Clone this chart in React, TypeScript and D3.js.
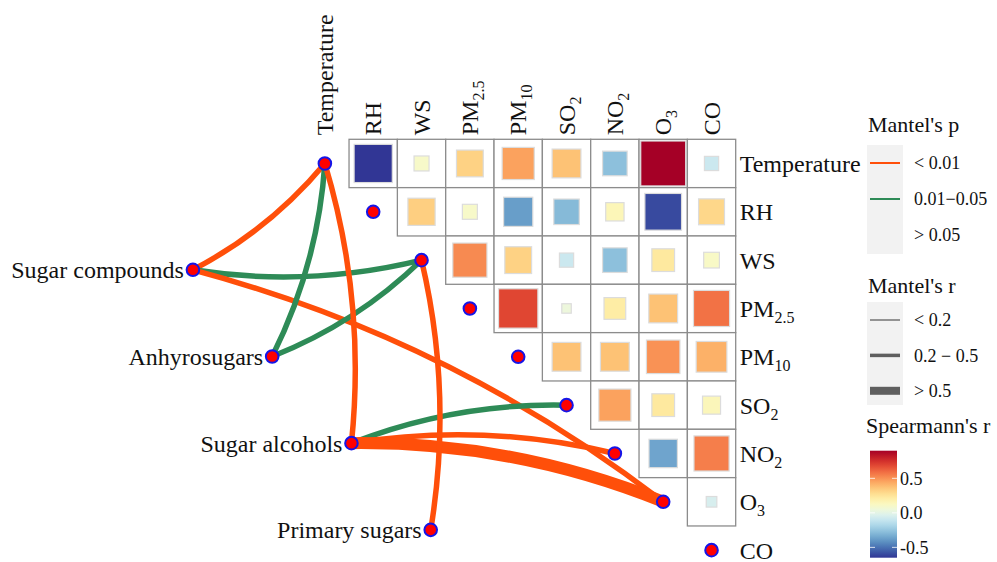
import React from "react";
import * as d3 from "d3";

// ---------------- data ----------------
const envVars = ["Temperature", "RH", "WS", "PM2.5", "PM10", "SO2", "NO2", "O3", "CO"];

// Spearman r, upper triangle: row i vs columns i+1 .. CO
const corrRows: number[][] = [
  [-0.65, 0.1, 0.32, 0.46, 0.37, -0.27, 0.9, -0.09],
  [0.33, 0.1, -0.38, -0.29, 0.15, -0.6, 0.3],
  [0.52, 0.32, -0.09, -0.27, 0.23, 0.11],
  [0.69, 0.04, 0.21, 0.37, 0.58],
  [0.37, 0.37, 0.5, 0.42],
  [0.46, 0.23, 0.145],
  [-0.36, 0.55],
  [-0.05],
];

const specNames = ["Sugar compounds", "Anhyrosugars", "Sugar alcohols", "Primary sugars"];

const linkFrom = [
  "Sugar compounds", "Sugar compounds", "Sugar compounds",
  "Anhyrosugars", "Anhyrosugars",
  "Sugar alcohols", "Sugar alcohols", "Sugar alcohols", "Sugar alcohols",
  "Primary sugars",
];
const linkTo = ["Temperature", "WS", "O3", "Temperature", "WS", "Temperature", "SO2", "NO2", "O3", "WS"];
const linkP = ["< 0.01", "0.01−0.05", "< 0.01", "0.01−0.05", "0.01−0.05", "< 0.01", "0.01−0.05", "< 0.01", "< 0.01", "< 0.01"];
const linkR = ["0.2 − 0.5", "0.2 − 0.5", "0.2 − 0.5", "0.2 − 0.5", "0.2 − 0.5", "0.2 − 0.5", "0.2 − 0.5", "0.2 − 0.5", "> 0.5", "0.2 − 0.5"];

const pLevels = ["< 0.01", "0.01−0.05", "> 0.05"];
const rLevels = ["< 0.2", "0.2 − 0.5", "> 0.5"];
const colorTicks = [0.5, 0.0, -0.5];
const colorTickLabels = ["0.5", "0.0", "-0.5"];

// ---------------- layout / style ----------------
const W = 997;
const H = 562;
const FONT = "'Liberation Serif', 'Times New Roman', serif";
const gridLeft = 300.7;
const gridRight = 735.7;
const gridTop = 139.3;
const cell = (gridRight - gridLeft) / envVars.length;
const pColors = ["#FF4F0A", "#2E8B57", "none"];
const rWidthsPlot = [2, 5.5, 12];
const rWidthsLegend = [1.3, 3.5, 8];

function splitLabel(name: string): [string, string] {
  const m = name.match(/^([A-Za-z]+)(\d[\d.]*)$/);
  return m ? [m[1], m[2]] : [name, ""];
}

export default function App() {
  const n = envVars.length;
  const gx = d3.scaleLinear().domain([-0.5, n - 0.5]).range([gridLeft, gridRight]);
  const gy = d3.scaleLinear().domain([-0.5, n - 0.5]).range([gridTop, gridTop + cell * n]);

  const allR = corrRows.flat();
  const [rMin, rMax] = d3.extent(allR) as [number, number];
  const colorOf = (r: number) => d3.interpolateRdYlBu(1 - (r - rMin) / (rMax - rMin));

  // spec node layout in grid units
  const specCol = d3.scaleLinear().domain([0, specNames.length - 1]).range([-2.73, 2.19]);
  const specRow = d3.scaleLinear().domain([0, specNames.length - 1]).range([2.2, 7.58]);
  const specPos = specNames.map((_, i) => [gx(specCol(i)), gy(specRow(i))]);

  const cells: { i: number; j: number; r: number }[] = [];
  corrRows.forEach((row, i) => row.forEach((r, k) => cells.push({ i, j: i + 1 + k, r })));

  const curvature = 0.05;
  const links = linkFrom.map((from, k) => {
    const si = specNames.indexOf(from);
    const ej = envVars.indexOf(linkTo[k]);
    const [x1, y1] = specPos[si];
    const x2 = gx(ej);
    const y2 = gy(ej);
    const dx = x2 - x1;
    const dy = y2 - y1;
    const L = Math.hypot(dx, dy);
    const sign = ej < (n - 1) / 2 ? 1 : -1;
    const off = 2 * curvature * L * sign;
    const cx = (x1 + x2) / 2 + (-dy / L) * off;
    const cy = (y1 + y2) / 2 + (dx / L) * off;
    const path = d3.path();
    path.moveTo(x1, y1);
    path.quadraticCurveTo(cx, cy, x2, y2);
    return {
      d: path.toString(),
      color: pColors[pLevels.indexOf(linkP[k])],
      width: rWidthsPlot[rLevels.indexOf(linkR[k])],
    };
  });

  const cbY = d3.scaleLinear().domain([rMin, rMax]).range([557.7, 450.7]);
  const gradStops = d3.range(0, 1.0001, 0.05);

  const renderLabel = (name: string, subSize: number, subDy: number) => {
    const [main, sub] = splitLabel(name);
    return (
      <>
        <tspan>{main}</tspan>
        {sub && (
          <tspan fontSize={subSize} dy={subDy}>
            {sub}
          </tspan>
        )}
      </>
    );
  };

  return (
    <svg
      width={W}
      height={H}
      style={{ position: "absolute", left: 0, top: 0, background: "#fff" }}
      fontFamily={FONT}
    >
      <defs>
        <linearGradient id="cbGrad" x1="0" y1="1" x2="0" y2="0">
          {gradStops.map((t) => (
            <stop key={t} offset={t} stopColor={colorOf(rMin + t * (rMax - rMin))} />
          ))}
        </linearGradient>
      </defs>

      {/* grid cells */}
      {cells.map((c) => {
        const side = cell * 0.98 * Math.sqrt(Math.abs(c.r));
        const cx = gx(c.j);
        const cy = gy(c.i);
        return (
          <g key={`${c.i}-${c.j}`}>
            <rect
              x={cx - cell / 2}
              y={cy - cell / 2}
              width={cell}
              height={cell}
              fill="#fff"
              stroke="#8c8c8c"
              strokeWidth={1.3}
            />
            <rect
              x={cx - side / 2}
              y={cy - side / 2}
              width={side}
              height={side}
              fill={colorOf(c.r)}
              stroke="#dcdcdc"
              strokeWidth={1.2}
            />
          </g>
        );
      })}

      {/* links */}
      {links.map((l, k) => (
        <path key={k} d={l.d} fill="none" stroke={l.color} strokeWidth={l.width} strokeLinecap="butt" />
      ))}

      {/* env nodes */}
      {envVars.map((v, j) => (
        <circle key={v} cx={gx(j)} cy={gy(j)} r={6.3} fill="#FF0000" stroke="#1515E8" strokeWidth={2} />
      ))}
      {/* spec nodes */}
      {specPos.map(([x, y], i) => (
        <circle key={i} cx={x} cy={y} r={6.3} fill="#FF0000" stroke="#1515E8" strokeWidth={2} />
      ))}

      {/* spec labels */}
      {specNames.map((s, i) => (
        <text key={s} x={specPos[i][0] - 9} y={specPos[i][1]} dy="0.35em" textAnchor="end" fontSize={24} fill="#111">
          {s}
        </text>
      ))}

      {/* right row labels */}
      {envVars.map((v, i) => (
        <text key={v} x={gridRight + 4} y={gy(i)} dy="0.35em" fontSize={24} fill="#111">
          {renderLabel(v, 16, 6)}
        </text>
      ))}

      {/* top column labels */}
      {envVars.map((v, j) => (
        <text
          key={v}
          transform={`translate(${gx(j) + 8},${gridTop - 4}) rotate(-90)`}
          fontSize={24}
          fill="#111"
        >
          {renderLabel(v, 16, 6)}
        </text>
      ))}

      {/* legend: Mantel's p */}
      <text x={868} y={132} fontSize={22} fill="#111">Mantel's p</text>
      <rect x={867} y={145} width={36} height={109} fill="#F2F2F2" />
      {pLevels.map((p, k) => {
        const yy = 163 + k * 36;
        return (
          <g key={p}>
            {pColors[k] !== "none" && <line x1={870} x2={900} y1={yy} y2={yy} stroke={pColors[k]} strokeWidth={2} />}
            <text x={914} y={yy} dy="0.35em" fontSize={18} fill="#111">{p}</text>
          </g>
        );
      })}

      {/* legend: Mantel's r */}
      <text x={868} y={293} fontSize={22} fill="#111">Mantel's r</text>
      <rect x={867} y={302} width={36} height={103} fill="#F2F2F2" />
      {rLevels.map((r, k) => {
        const yy = 320 + k * 35.4;
        return (
          <g key={r}>
            <line x1={870} x2={900} y1={yy} y2={yy} stroke="#5f5f5f" strokeWidth={rWidthsLegend[k]} />
            <text x={914} y={yy} dy="0.35em" fontSize={18} fill="#111">{r}</text>
          </g>
        );
      })}

      {/* legend: Spearmann's r */}
      <text x={866} y={433} fontSize={22} fill="#111">Spearmann's r</text>
      <rect x={870} y={cbY(rMax)} width={27} height={cbY(rMin) - cbY(rMax)} fill="url(#cbGrad)" />
      {colorTicks.map((t, k) => (
        <g key={t}>
          <line x1={870} x2={875} y1={cbY(t)} y2={cbY(t)} stroke="#fff" strokeWidth={1} opacity={0.8} />
          <line x1={892} x2={897} y1={cbY(t)} y2={cbY(t)} stroke="#fff" strokeWidth={1} opacity={0.8} />
          <text x={900} y={cbY(t)} dy="0.35em" fontSize={18} fill="#111">{colorTickLabels[k]}</text>
        </g>
      ))}
    </svg>
  );
}
